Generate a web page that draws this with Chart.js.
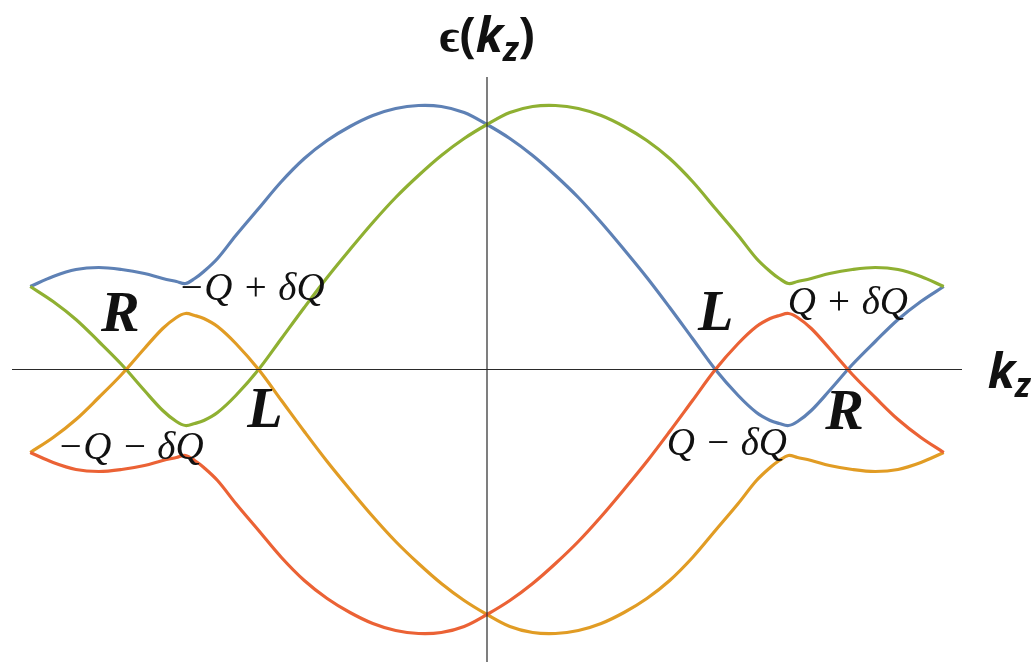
<!DOCTYPE html>
<html>
<head>
<meta charset="utf-8">
<script src="https://cdn.jsdelivr.net/npm/chart.js@4.4.0/dist/chart.umd.min.js"></script>
<style>
  html, body { margin: 0; padding: 0; background: #fff; }
</style>
</head>
<body>
<canvas id="bands" width="1035" height="662"></canvas>
<script>
// momentum along z (sampled points)
const kz = [
  -1.00, -0.95, -0.90, -0.85, -0.80, -0.75, -0.71, -0.68, -0.66, -0.64, -0.62, -0.59,
  -0.55, -0.50, -0.45, -0.40, -0.35, -0.30, -0.25, -0.20, -0.15, -0.10, -0.05, 0.00,
  0.05, 0.10, 0.15, 0.20, 0.25, 0.30, 0.35, 0.40, 0.45, 0.50, 0.55, 0.59,
  0.62, 0.64, 0.66, 0.68, 0.71, 0.75, 0.80, 0.85, 0.90, 0.95, 1.00
];

// band energies at each kz
const bandBlue = [
  0.83, 0.93, 1.00, 1.02, 1.00, 0.96, 0.91, 0.88, 0.86, 0.91, 0.98, 1.11,
  1.34, 1.61, 1.88, 2.11, 2.29, 2.43, 2.54, 2.61, 2.64, 2.63, 2.57, 2.45,
  2.31, 2.14, 1.94, 1.72, 1.47, 1.20, 0.92, 0.62, 0.31, 0.00, -0.26, -0.43,
  -0.51, -0.54, -0.56, -0.52, -0.41, -0.21, 0.05, 0.28, 0.50, 0.68, 0.83
];
const bandGreen = [
  0.83, 0.68, 0.50, 0.28, 0.05, -0.21, -0.41, -0.52, -0.56, -0.54, -0.51, -0.43,
  -0.26, 0.00, 0.31, 0.62, 0.92, 1.20, 1.47, 1.72, 1.94, 2.14, 2.31, 2.45,
  2.57, 2.63, 2.64, 2.61, 2.54, 2.43, 2.29, 2.11, 1.88, 1.61, 1.34, 1.11,
  0.98, 0.91, 0.86, 0.88, 0.91, 0.96, 1.00, 1.02, 1.00, 0.93, 0.83
];
const bandRed = [
  -0.83, -0.93, -1.00, -1.02, -1.00, -0.96, -0.91, -0.88, -0.86, -0.91, -0.98, -1.11,
  -1.34, -1.61, -1.88, -2.11, -2.29, -2.43, -2.54, -2.61, -2.64, -2.63, -2.57, -2.45,
  -2.31, -2.14, -1.94, -1.72, -1.47, -1.20, -0.92, -0.62, -0.31, 0.00, 0.26, 0.43,
  0.51, 0.54, 0.56, 0.52, 0.41, 0.21, -0.05, -0.28, -0.50, -0.68, -0.83
];
const bandOrange = [
  -0.83, -0.68, -0.50, -0.28, -0.05, 0.21, 0.41, 0.52, 0.56, 0.54, 0.51, 0.43,
  0.26, 0.00, -0.31, -0.62, -0.92, -1.20, -1.47, -1.72, -1.94, -2.14, -2.31, -2.45,
  -2.57, -2.63, -2.64, -2.61, -2.54, -2.43, -2.29, -2.11, -1.88, -1.61, -1.34, -1.11,
  -0.98, -0.91, -0.86, -0.88, -0.91, -0.96, -1.00, -1.02, -1.00, -0.93, -0.83
];

// point labels (Weyl nodes and kink positions)
const nodeLabels = ['R', 'L', 'L', 'R'];
const nodeK = [-0.803, -0.486, 0.501, 0.783];
const nodeE = [0.53, -0.43, 0.54, -0.45];

const kinkLabels = ['\u2212Q + \u03B4Q', '\u2212Q \u2212 \u03B4Q', 'Q + \u03B4Q', 'Q \u2212 \u03B4Q'];
const kinkK = [-0.516, -0.781, 0.790, 0.525];
const kinkE = [0.80, -0.79, 0.66, -0.75];

const toPoints = (vals) => kz.map((k, i) => ({ x: k, y: vals[i] }));

const makeBand = (vals, color) => ({
  data: toPoints(vals),
  borderColor: color,
  borderWidth: 3.2,
  pointRadius: 0,
  tension: 0.35,
  fill: false
});

// draws a run of text pieces with different fonts, centred on cx
const drawPieces = (ctx, pieces, cx, baseline) => {
  let total = 0;
  pieces.forEach(p => {
    ctx.font = p.font;
    p.w = ctx.measureText(p.t).width;
    total += p.w;
  });
  let x = cx - total / 2;
  ctx.textAlign = 'left';
  ctx.textBaseline = 'alphabetic';
  pieces.forEach(p => {
    ctx.font = p.font;
    ctx.fillText(p.t, x, baseline + (p.dy || 0));
    x += p.w;
  });
};

const axesAndText = {
  id: 'axesAndText',
  afterDatasetsDraw(chart) {
    const { ctx, chartArea, scales } = chart;
    const x0 = scales.x.getPixelForValue(0);
    const y0 = scales.y.getPixelForValue(0);

    ctx.save();
    ctx.strokeStyle = '#2a2a2a';
    ctx.lineWidth = 1.2;
    ctx.beginPath();
    ctx.moveTo(chartArea.left, y0);
    ctx.lineTo(chartArea.right, y0);
    ctx.moveTo(x0, chartArea.top);
    ctx.lineTo(x0, chartArea.bottom);
    ctx.stroke();

    ctx.fillStyle = '#111';
    ctx.textAlign = 'center';
    ctx.textBaseline = 'middle';

    ctx.font = 'italic bold 58px "Liberation Serif"';
    nodeLabels.forEach((t, i) => {
      ctx.fillText(t, scales.x.getPixelForValue(nodeK[i]), scales.y.getPixelForValue(nodeE[i]));
    });

    ctx.font = 'italic 39px "Liberation Serif"';
    kinkLabels.forEach((t, i) => {
      ctx.fillText(t, scales.x.getPixelForValue(kinkK[i]), scales.y.getPixelForValue(kinkE[i]));
    });

    // axis titles
    const bold = 'bold 48px "Open Sans"';
    const boldIt = 'italic bold 48px "Open Sans"';
    const sub = 'italic bold 34px "Open Sans"';
    drawPieces(ctx, [
      { t: '\u03F5(', font: bold },
      { t: 'k', font: boldIt },
      { t: 'z', font: sub, dy: 9 },
      { t: ')', font: bold }
    ], x0, 52);

    drawPieces(ctx, [
      { t: 'k', font: boldIt },
      { t: 'z', font: sub, dy: 9 }
    ], 1009, 388);
    ctx.restore();
  }
};

new Chart(document.getElementById('bands'), {
  type: 'line',
  data: {
    datasets: [
      makeBand(bandRed, '#EB6235'),
      makeBand(bandOrange, '#E19C24'),
      makeBand(bandGreen, '#8FB032'),
      makeBand(bandBlue, '#5E81B5')
    ]
  },
  options: {
    responsive: false,
    animation: false,
    devicePixelRatio: 1,
    layout: { padding: { left: 12, right: 73, top: 77, bottom: 0 } },
    plugins: { legend: { display: false }, tooltip: { enabled: false } },
    scales: {
      x: { type: 'linear', min: -1.04, max: 1.04, display: false },
      y: { type: 'linear', min: -2.925, max: 2.925, display: false }
    }
  },
  plugins: [axesAndText]
});
</script>
</body>
</html>
